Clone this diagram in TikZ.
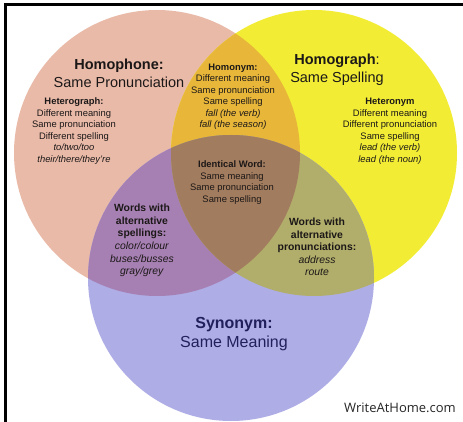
\documentclass[tikz,border=0pt]{standalone}
\usepackage{fontspec}
\setmainfont{Liberation Sans}
\newfontfamily\logofont{Open Sans}
\definecolor{pinkc}{RGB}{233,186,168}
\definecolor{yellowc}{RGB}{242,237,52}
\definecolor{bluec}{RGB}{174,173,230}
\definecolor{orangec}{RGB}{232,183,58}
\definecolor{purplec}{RGB}{166,128,178}
\definecolor{olivec}{RGB}{177,173,106}
\definecolor{brownc}{RGB}{162,124,94}
\definecolor{txt}{RGB}{28,24,24}
\definecolor{navy}{RGB}{34,32,92}
\tikzset{
  small/.style={align=center, inner sep=0pt, text=txt, font=\fontsize{9.4}{11.5}\selectfont},
  mid/.style={align=center, inner sep=0pt, text=txt, font=\fontsize{10.4}{12.6}\selectfont},
  title/.style={align=center, inner sep=0pt, text=txt, font=\fontsize{14.5}{18}\selectfont},
  syn/.style={align=center, inner sep=0pt, text=navy, font=\fontsize{16}{18.5}\selectfont},
  region/.style={radius=143pt}
}
\begin{document}
\begin{tikzpicture}[x=1pt,y=-1pt]
\useasboundingbox (0,0) rectangle (463,422);
\fill[white] (0,0) rectangle (463,422);
% circles
\coordinate (A) at (157,153);
\coordinate (B) at (314,153);
\coordinate (C) at (231,278);
\fill[pinkc] (A) circle[region];
\fill[yellowc] (B) circle[region];
\fill[bluec] (C) circle[region];
\begin{scope}\clip (A) circle[region]; \fill[orangec] (B) circle[region];\end{scope}
\begin{scope}\clip (A) circle[region]; \fill[purplec] (C) circle[region];\end{scope}
\begin{scope}\clip (B) circle[region]; \fill[olivec] (C) circle[region];\end{scope}
\begin{scope}\clip (A) circle[region]; \clip (B) circle[region]; \fill[brownc] (C) circle[region];\end{scope}
% frame
\fill[black] (4,3.5) rectangle (463,6.5);
\fill[black] (4,3.5) rectangle (7,422);
% titles
\node[title] (homophone) at (119,73) {\textbf{Homophone:}\\Same Pronunciation};
\node[title] (homograph) at (337,70) {\textbf{Homograph}:\\Same Spelling};
\node[syn] (synonym) at (234,334) {\textbf{Synonym:}\\Same Meaning};
% blocks
\node[small] (heterograph) at (74,131) {\textbf{Heterograph:}\\Different meaning\\Same pronunciation\\Different spelling\\\textit{to/two/too}\\\textit{their/there/they're}};
\node[small] (homonym) at (233,96.5) {\textbf{Homonym:}\\Different meaning\\Same pronunciation\\Same spelling\\\textit{fall (the verb)}\\\textit{fall (the season)}};
\node[small] (heteronym) at (390,131) {\textbf{Heteronym}\\Different meaning\\Different pronunciation\\Same spelling\\\textit{lead (the verb)}\\\textit{lead (the noun)}};
\node[small] (identical) at (232,182.5) {\textbf{Identical Word:}\\Same meaning\\Same pronunciation\\Same spelling};
\node[mid] (altspell) at (142,240.5) {\textbf{Words with}\\\textbf{alternative}\\\textbf{spellings:}\\\textit{color/colour}\\\textit{buses/busses}\\\textit{gray/grey}};
\node[mid] (altpron) at (317,247) {\textbf{Words with}\\\textbf{alternative}\\\textbf{pronunciations:}\\\textit{address}\\\textit{route}};
% logo
\node[inner sep=0pt, text=black!85, font=\logofont\fontsize{13}{13}\selectfont] (logo) at (400,408) {WriteAtHome.com};
\end{tikzpicture}
\end{document}
